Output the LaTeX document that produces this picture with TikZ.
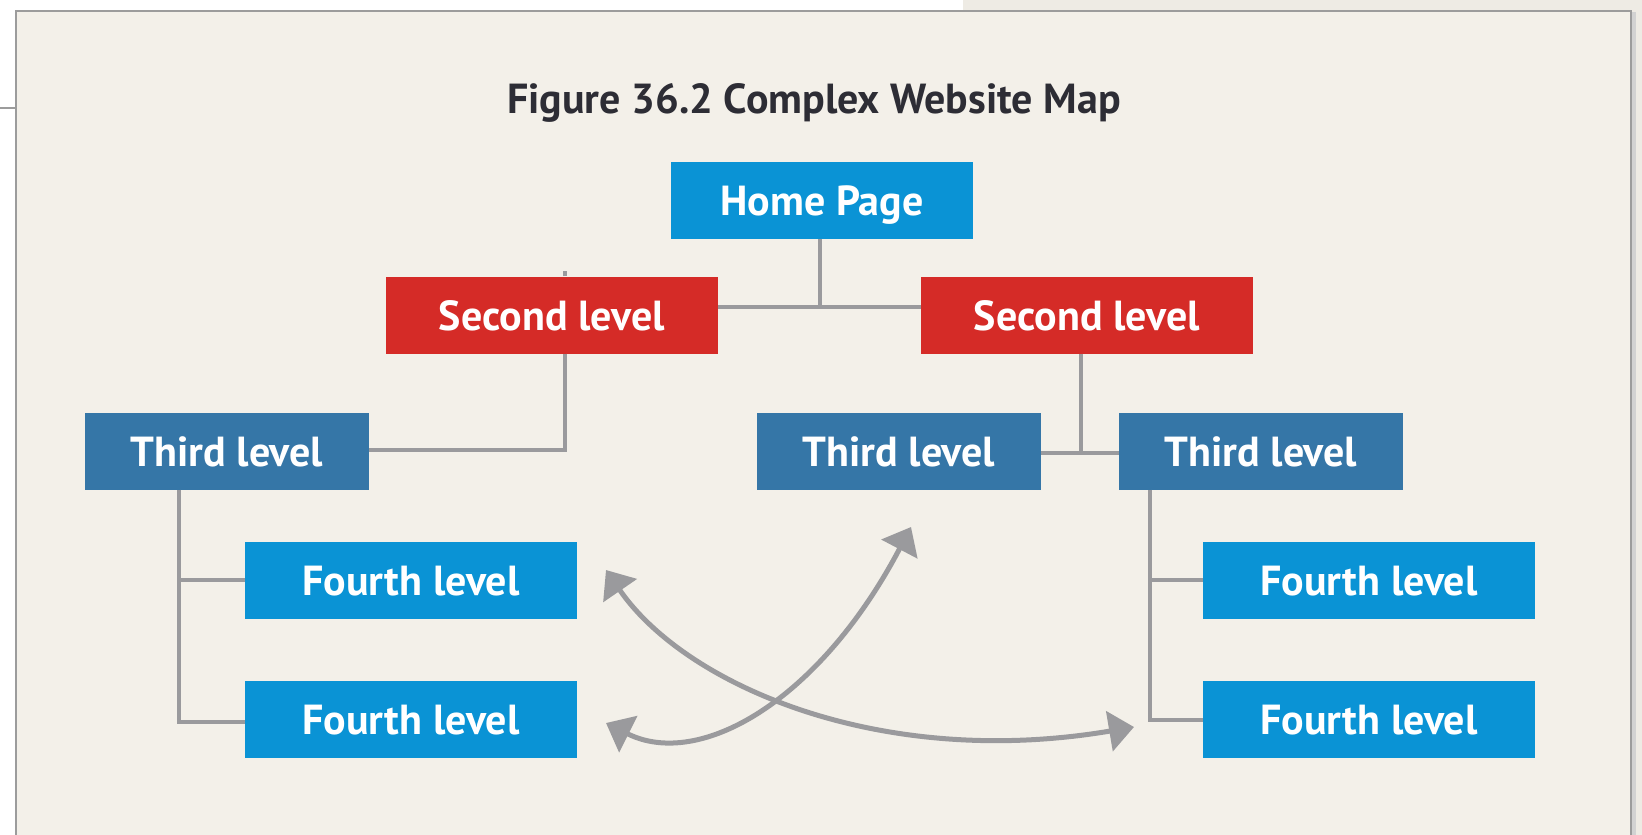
\documentclass[tikz,border=0pt]{standalone}
\usepackage{fontspec}
\setmainfont{PT Sans}
\usetikzlibrary{arrows.meta}
\definecolor{paper}{HTML}{F3F0E9}
\definecolor{outside}{HTML}{EEEBE4}
\definecolor{frame}{HTML}{9C9C9C}
\definecolor{homeblue}{HTML}{0A93D5}
\definecolor{levelred}{HTML}{D52B27}
\definecolor{steelblue}{HTML}{3576A7}
\definecolor{linkgray}{HTML}{9A9A9D}
\definecolor{titlegray}{HTML}{2D2D35}
\begin{document}
\begin{tikzpicture}[x=1pt,y=-1pt,
    box/.style={inner sep=0pt,minimum height=77pt,text=white,
      font=\fontsize{42}{50}\selectfont\bfseries,text height=30pt,text depth=0pt},
    bluebox/.style={box,fill=homeblue,minimum width=332pt},
    redbox/.style={box,fill=levelred,minimum width=332pt},
    steelbox/.style={box,fill=steelblue,minimum width=284pt},
    link/.style={draw=linkgray,line width=4.5pt},
    jump/.style={draw=linkgray,line width=5pt,
      {Triangle[width=40pt,length=25pt]}-{Triangle[width=40pt,length=25pt]}}]
  \useasboundingbox (0,0) rectangle (1642,835);
  % page and panel
  \fill[white] (0,0) rectangle (1642,835);
  \fill[outside] (963,0) rectangle (1642,835);
  \draw[frame,line width=1.5pt] (0,108) -- (16,108);
  \filldraw[fill=paper,draw=frame,line width=2pt] (16,10.5) rectangle (1631,850);
  \fill[frame!45] (1632,12) rectangle (1636,835);

  \node[font=\fontsize{42}{50}\selectfont\bfseries,text=titlegray,
    text height=30pt,text depth=0pt] (title) at (814,98) {Figure 36.2 Complex Website Map};

  % boxes
  \node[bluebox,minimum width=302pt] (home) at (822,200) {Home Page};
  \node[redbox] (s1) at (552,315) {Second level};
  \node[redbox] (s2) at (1087,315) {Second level};
  \node[steelbox] (t1) at (227,451) {Third level};
  \node[steelbox] (t2) at (899,451) {Third level};
  \node[steelbox] (t3) at (1261,451) {Third level};
  \node[bluebox] (f1) at (411,580) {Fourth level};
  \node[bluebox] (f2) at (411,719) {Fourth level};
  \node[bluebox] (f3) at (1369,580) {Fourth level};
  \node[bluebox] (f4) at (1369,719) {Fourth level};

  % tree lines
  \coordinate (hj) at (820,307);
  \draw[link] (home.south -| hj) -- (hj);
  \draw[link] (s1.east |- hj) -- (s2.west |- hj);

  \coordinate (lj) at (565,450);
  \draw[link] (s1.north -| lj) -- ++(0,-5);
  \draw[link] (s1.south -| lj) -- (lj) -- (t1.east |- lj);

  \coordinate (rj) at (1081,453);
  \draw[link] (s2.south -| rj) -- (rj);
  \draw[link] (t2.east |- rj) -- (t3.west |- rj);

  \coordinate (ll) at (179,722);
  \draw[link] (t1.south -| ll) -- (ll) -- (f2.west |- ll);
  \draw[link] (f1.west -| ll) -- (f1.west);

  \coordinate (rl) at (1150,720);
  \draw[link] (t3.south -| rl) -- (rl) -- (f4.west |- rl);
  \draw[link] (f3.west -| rl) -- (f3.west);

  % cross links
  \coordinate (a1) at (606,570);
  \coordinate (a2) at (1134,727);
  \coordinate (b1) at (606,723);
  \coordinate (b2) at (911,527);
  \draw[jump] (a1) .. controls (685,685) and (880,770) .. (a2);
  \draw[jump] (b1) .. controls (700,770) and (820,700) .. (b2);
\end{tikzpicture}
\end{document}
